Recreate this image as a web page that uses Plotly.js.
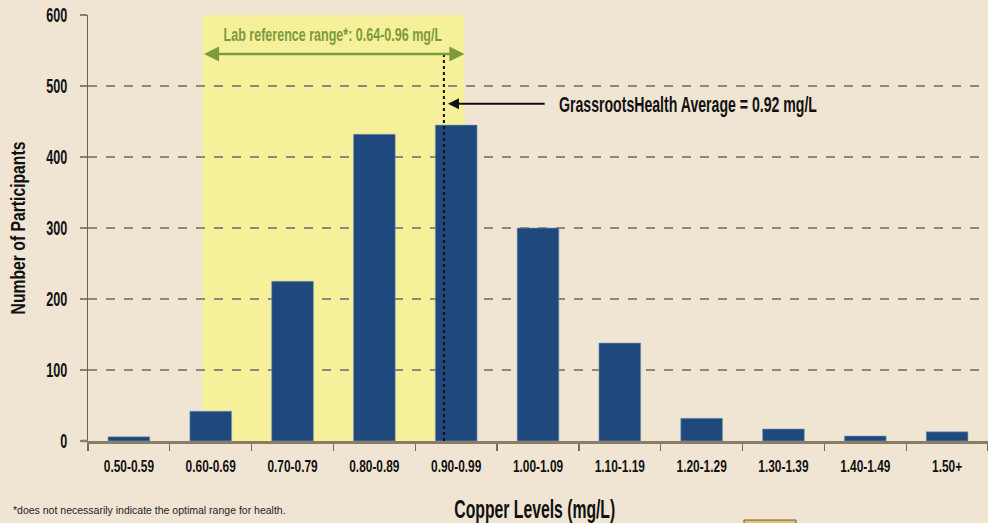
<!DOCTYPE html>
<html>
<head>
<meta charset="utf-8">
<script src="https://cdn.plot.ly/plotly-3.0.1.min.js"></script>
<style>
html,body{margin:0;padding:0;background:#f0e5d3;}
#chart{width:988px;height:523px;}
</style>
</head>
<body>
<div id="chart"></div>
<script>
const categories = ["0.50-0.59","0.60-0.69","0.70-0.79","0.80-0.89","0.90-0.99","1.00-1.09","1.10-1.19","1.20-1.29","1.30-1.39","1.40-1.49","1.50+"];
const participants = [6, 42, 225, 432, 445, 300, 138, 32, 17, 7, 13];
const yTicks = [0, 100, 200, 300, 400, 500, 600];
const labRangeText = "Lab reference range*: 0.64-0.96 mg/L";
const averageText = "GrassrootsHealth Average = 0.92 mg/L";
const footnote = "*does not necessarily indicate the optimal range for health.";
const xTitle = "Copper Levels (mg/L)";
const yTitle = "Number of Participants";

const bold = '"Liberation Sans", Arial, sans-serif';

const plotL = 88, plotW = 900, plotT = 15, plotH = 426;
const px = v => (v - plotL) / plotW;
const py = v => (plotT + plotH - v) / plotH;

const trace = {
  type: 'bar',
  x: categories,
  y: participants,
  width: 0.51,
  marker: {color: '#1f497d', line: {color: '#7f9cbd', width: 0.6}},
  hoverinfo: 'x+y'
};

const layout = {
  width: 988, height: 523,
  paper_bgcolor: '#f0e5d3',
  plot_bgcolor: '#f0e5d3',
  margin: {l: plotL, r: 0, t: plotT, b: 523 - plotT - plotH},
  showlegend: false,
  xaxis: {
    type: 'category',
    range: [-0.5, 10.5],
    tickson: 'boundaries',
    ticks: 'outside', ticklen: 7, tickcolor: '#7a6b55', tickwidth: 1.2,
    showline: true, linecolor: '#8a7c66', linewidth: 2.5,
    showgrid: false, zeroline: false,
    ticklabelstandoff: 8,
    tickfont: {family: bold, size: 17, color: '#111', weight: 'bold'},
    automargin: false
  },
  yaxis: {
    range: [0, 600],
    tickvals: yTicks,
    ticks: 'outside', ticklen: 7, tickcolor: '#8a7f6e', tickwidth: 1.2,
    showline: true, linecolor: '#6e6049', linewidth: 1.5,
    showgrid: true, gridcolor: '#8f877a', griddash: 'dash', gridwidth: 1.2,
    zeroline: false,
    ticklabelstandoff: 8,
    tickfont: {family: bold, size: 21, color: '#111', weight: 'bold'},
    automargin: false
  },
  shapes: [
    {type: 'rect', layer: 'below', xref: 'x', yref: 'y', x0: 0.9, x1: 4.1, y0: 0, y1: 600,
     fillcolor: '#f6f09b', line: {width: 0}},
    {type: 'line', xref: 'x', yref: 'y', x0: 3.85, x1: 3.85, y0: 0, y1: 545,
     line: {color: '#111', width: 2, dash: 'dot'}},
    {type: 'line', xref: 'paper', yref: 'paper', x0: px(81), x1: px(88), y0: 0, y1: 0,
     line: {color: '#8a7c66', width: 2.5}},
    {type: 'rect', xref: 'paper', yref: 'paper', x0: px(744), x1: px(796), y0: py(527), y1: py(520),
     fillcolor: '#e6c26f', line: {color: '#6b5a3a', width: 1}}
  ],
  annotations: [
    {x: 4.1, y: 545, xref: 'x', yref: 'y', ax: 0.9, ay: 545, axref: 'x', ayref: 'y',
     showarrow: true, arrowside: 'end+start', arrowhead: 2, startarrowhead: 2,
     arrowsize: 1.2, startarrowsize: 1.2, arrowwidth: 2.5, arrowcolor: '#7b9b3d', text: ''},
    {x: 2.5, y: 573, xref: 'x', yref: 'y', showarrow: false, text: labRangeText,
     xanchor: 'center', yanchor: 'middle',
     font: {family: bold, size: 19, color: '#7b9b3d', weight: 'bold'}},
    {x: 3.9, y: 475, xref: 'x', yref: 'y', ax: 5.1, ay: 475, axref: 'x', ayref: 'y',
     showarrow: true, arrowhead: 2, arrowsize: 1.1, arrowwidth: 2, arrowcolor: '#111', text: ''},
    {x: px(557), y: py(104), xref: 'paper', yref: 'paper', xanchor: 'left', yanchor: 'middle',
     showarrow: false, text: averageText,
     font: {family: bold, size: 22, color: '#111', weight: 'bold'}},
    {x: px(11), y: py(510), xref: 'paper', yref: 'paper', showarrow: false, text: footnote,
     xanchor: 'left', yanchor: 'middle',
     font: {family: '"Liberation Sans", Arial, sans-serif', size: 10.5, color: '#222'}},
    {x: px(535), y: py(509), xref: 'paper', yref: 'paper', showarrow: false, text: xTitle,
     xanchor: 'center', yanchor: 'middle',
     font: {family: bold, size: 25, color: '#111', weight: 'bold'}},
    {x: px(18), y: py(228), xref: 'paper', yref: 'paper', showarrow: false, text: yTitle, textangle: -90,
     xanchor: 'center', yanchor: 'middle',
     font: {family: bold, size: 20, color: '#111', weight: 'bold'}}
  ]
};

// squeeze text horizontally to imitate the condensed typeface of the original
function condense(el, scale, target, forceAnchor) {
  if (!el) return;
  const bb = el.getBBox();
  const s = target ? target / bb.width : scale;
  const anchor = forceAnchor || el.getAttribute('text-anchor') || 'start';
  const cx = anchor === 'end' ? bb.x + bb.width : anchor === 'middle' ? bb.x + bb.width / 2 : bb.x;
  const t = el.getAttribute('transform') || '';
  el.setAttribute('transform', t + ' translate(' + cx + ',0) scale(' + s + ',1) translate(' + (-cx) + ',0)');
}

Plotly.newPlot('chart', [trace], layout, {displayModeBar: false, staticPlot: true}).then(gd => {
  gd.querySelectorAll('.xtick text').forEach(el => condense(el, 0.7));
  gd.querySelectorAll('.ytick text').forEach(el => condense(el, 0.6));
  const ann = i => gd.querySelector('.annotation[data-index="' + i + '"] .annotation-text');
  condense(ann(1), 0, 219);
  condense(ann(3), 0, 258, 'start');
  condense(ann(5), 0, 161);
  condense(ann(6), 0, 173);
});
</script>
</body>
</html>
